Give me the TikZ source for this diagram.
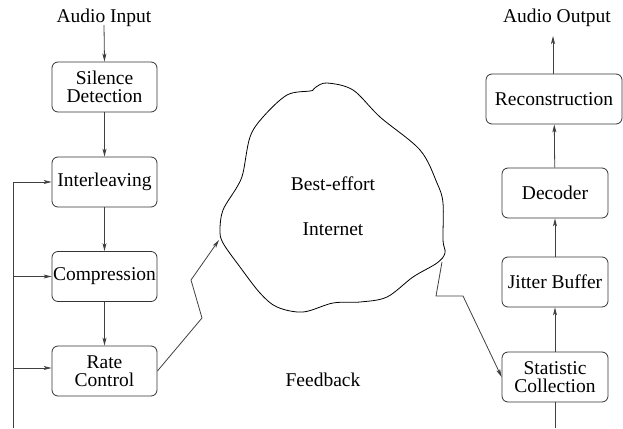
\documentclass[tikz,border=0pt]{standalone}
\usepackage{fontspec}
\newfontfamily\labelfont{Liberation Serif}
\usetikzlibrary{arrows.meta}
\begin{document}
\begin{tikzpicture}[x=1pt,y=-1pt,
  every node/.style={font=\labelfont\fontsize{19.5}{18.5}\selectfont, align=center, inner sep=0pt},
  block/.style={draw=black!80, line width=0.8pt, rounded corners=6pt,
    minimum width=105pt, minimum height=50pt},
  wire/.style={draw=black!75, line width=0.8pt},
  flow/.style={wire, -{Stealth[length=8pt,width=4pt,inset=2pt]}}]
\useasboundingbox (0,0) rectangle (623,428);

% sender side
\node (ain) at (104,18) {Audio Input};
\node[block] (sil) at (104.5,87) {Silence\\Detection};
\node[block] (intl) at (104.5,182) {Interleaving};
\node[block] (comp) at (104.5,276.5) {Compression};
\node[block] (rate) at (104.5,371) {Rate\\Control};

\draw[flow] (ain.south) ++(0,-2) -- (sil.north);
\draw[flow] (sil) -- (intl);
\draw[flow] (intl) -- (comp);
\draw[flow] (comp) -- (rate);

% receiver side
\node (aout) at (557,18) {Audio Output};
\node[block, minimum width=136pt] (rec) at (554,99) {Reconstruction};
\node[block, minimum width=106pt] (dec) at (555,193) {Decoder};
\node[block, minimum width=106pt] (jit) at (555,282) {Jitter Buffer};
\node[block, minimum width=106pt] (stat) at (555,377) {Statistic\\Collection};

\coordinate (outtip) at (553,36);
\draw[flow] (rec.north -| outtip) -- (outtip);
\draw[flow] (dec) -- (rec);
\draw[flow] (jit) -- (dec);
\draw[flow] (stat) -- (jit);
\coordinate (statdown) at (555,428);
\draw[wire] (stat.south) -- (statdown);

% the network cloud
\draw[black, line width=0.8pt] plot[smooth cycle, tension=0.55] coordinates {
  (313,90) (316,87) (327,83) (353,90) (380,117) (420,150) (437,183) (443,203)
  (443,240) (445,253) (437,263) (413,277) (387,297) (360,302) (333,303)
  (303,312) (277,307) (260,293) (240,267) (223,243) (220,230) (223,210)
  (237,187) (243,173) (250,137) (263,117) (287,95) (310,91)};
\node (best) at (333,184) {Best-effort};
\node (inet) at (333,229) {Internet};
\coordinate (netin) at (219,240);
\coordinate (netout) at (442,262);

\draw[flow] (rate.east) -- (202,318) -- (191,280) -- (netin);
\draw[flow] (netout) -- (436,296) -- (463,296) -- (stat.west);

% feedback path
\node (fb) at (323,380) {Feedback};
\coordinate (fbbot) at (13,428);
\coordinate (fbtop) at (13,182);
\draw[wire] (fbbot) -- (fbtop);
\draw[flow] (fbtop) -- (intl.west);
\draw[flow] (13,276.5) -- (comp.west);
\draw[flow] (13,368) -- (rate.west |- 0,368);
\end{tikzpicture}
\end{document}
